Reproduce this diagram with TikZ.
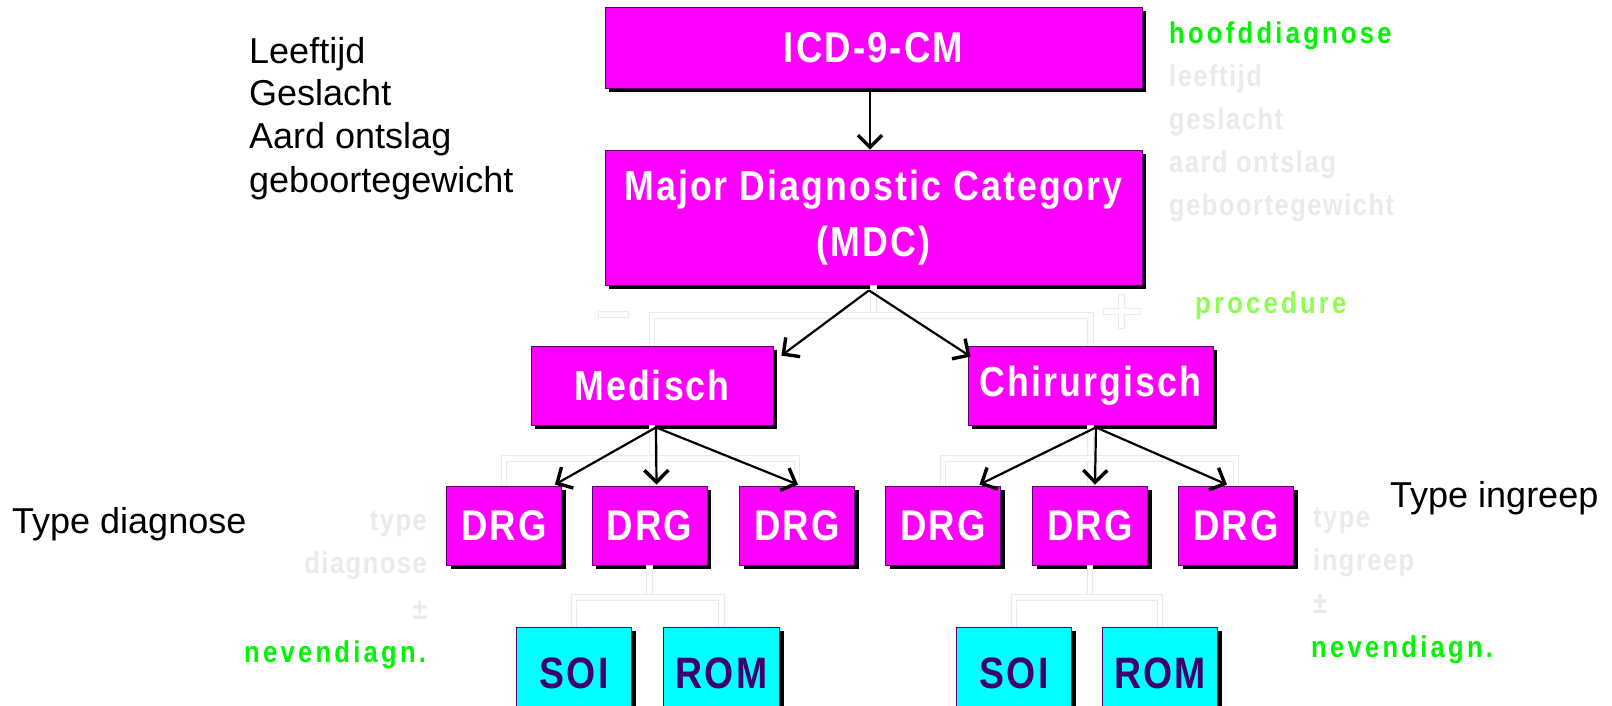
\documentclass[tikz,border=0pt]{standalone}
\usepackage{fontspec}
\setmainfont{Liberation Sans}
\newfontfamily\nb{Liberation Sans Bold}[FakeStretch=0.85,LetterSpace=5]
\newfontfamily\hb{Liberation Sans Bold}[FakeStretch=0.85,LetterSpace=5]
\newfontfamily\gb{Liberation Sans Bold}[FakeStretch=0.85,LetterSpace=11]
\usetikzlibrary{arrows.meta,shadows,calc}
\definecolor{mag}{RGB}{255,0,255}
\definecolor{mborder}{RGB}{90,0,110}
\definecolor{cyn}{RGB}{0,255,255}
\definecolor{soitext}{RGB}{60,0,110}
\definecolor{grn}{RGB}{0,245,0}
\definecolor{lgrn}{RGB}{140,255,80}
\definecolor{ghostc}{RGB}{234,234,238}
\begin{document}
\begin{tikzpicture}[x=1pt,y=-1pt,
  mbox/.style={draw=mborder,line width=0.8pt,fill=mag,text=white,inner sep=0pt,
     drop shadow={shadow xshift=4pt,shadow yshift=-4pt,fill=black,opacity=1}},
  cbox/.style={mbox,fill=cyn,text=soitext},
  arr/.style={line width=2.2pt,-{Straight Barb[length=12pt,width=24pt,line width=3.4pt]}},
  ghostline/.style={draw=ghostc,line width=0.9pt,double=white,double distance=4.5pt},
  btxt/.style={font=\fontsize{36}{43}\selectfont,anchor=base west,inner sep=0pt},
  gtxt/.style={font=\gb\fontsize{30}{36}\selectfont,anchor=base west,inner sep=0pt,text=grn},
  ghtxt/.style={font=\hb\fontsize{30}{36}\selectfont,anchor=base west,inner sep=0pt,text=ghostc}
 ]
\useasboundingbox (0,0) rectangle (1612,705);
\fill[white] (0,0) rectangle (1612,705);
\clip (0,0) rectangle (1612,705);

% boxes
\node[mbox,minimum width=537pt,minimum height=81pt,font=\nb\fontsize{43}{50}\selectfont] (ICD) at (873.5,47.5) {ICD-9-CM};
\node[mbox,minimum width=537pt,minimum height=135pt,align=center,font=\nb\fontsize{42}{56}\selectfont] (MDC) at (873.5,217.5) {Major Diagnostic Category\\(MDC)};
\node[mbox,minimum width=242pt,minimum height=79pt,font=\nb\fontsize{42}{50}\selectfont] (Med) at (652,385.5) {Medisch};
\node[mbox,minimum width=245pt,minimum height=79pt,font=\nb\fontsize{42}{50}\selectfont] (Chir) at (1090.5,385.5) {Chirurgisch};

\foreach \n/\x in {DRGa/504,DRGb/649.5,DRGc/797,DRGd/943,DRGe/1090,DRGf/1236}{
  \node[mbox,minimum width=115pt,minimum height=79pt,font=\nb\fontsize{43}{50}\selectfont] (\n) at (\x,525.5) {DRG};
}
\node[cbox,minimum width=115pt,minimum height=92pt,font=\nb\fontsize{44}{50}\selectfont] (SOIL) at (574,673) {SOI};
\node[cbox,minimum width=116pt,minimum height=92pt,font=\nb\fontsize{44}{50}\selectfont] (ROML) at (721.5,673) {ROM};
\node[cbox,minimum width=115pt,minimum height=92pt,font=\nb\fontsize{44}{50}\selectfont] (SOIR) at (1014,673) {SOI};
\node[cbox,minimum width=115pt,minimum height=92pt,font=\nb\fontsize{44}{50}\selectfont] (ROMR) at (1160,673) {ROM};

% ghost tree lines
\draw[ghostline] (MDC.south) -- ++(0,31);
\draw[ghostline] (Med.north) -- ++(0,-30) -| (Chir.north);
\draw[ghostline] (Med.south) -- (Med.south |- DRGa.north);
\draw[ghostline] (DRGa.north) -- ++(0,-27) -| (DRGc.north);
\draw[ghostline] (Chir.south) -- (Chir.south |- DRGd.north);
\draw[ghostline] (DRGd.north) -- ++(0,-27) -| (DRGf.north);
\draw[ghostline] (DRGb.south) -- ++(0,33);
\draw[ghostline] (SOIL.north) -- ++(0,-29) -| (ROML.north);
\draw[ghostline] (DRGe.south) -- ++(0,33);
\draw[ghostline] (SOIR.north) -- ++(0,-29) -| (ROMR.north);
\draw[ghostc,line width=0.9pt] (598,311) rectangle (628,317);
\draw[ghostc,line width=0.9pt] (1118.5,294.5) -- (1124.5,294.5) -- (1124.5,308.5) -- (1140,308.5) -- (1140,314.5) -- (1124.5,314.5) -- (1124.5,328.5) -- (1118.5,328.5) -- (1118.5,314.5) -- (1103,314.5) -- (1103,308.5) -- (1118.5,308.5) -- cycle;

% arrows
\draw[arr] (ICD.south -| 870,0) -- (MDC.north -| 870,0);
\coordinate (mA) at ($(MDC.south)+(-4.5,5)$);
\draw[arr] (mA) -- ($(Med.north east)+(8,10)$);
\draw[arr] (mA) -- ($(Chir.north west)+(3,11)$);
\coordinate (medA) at ($(Med.south)+(4,2)$);
\draw[arr] (medA) -- ($(DRGa.north east)+(-7,-1)$);
\draw[arr] (medA) -- ($(DRGb.north)+(7,-1)$);
\draw[arr] (medA) -- ($(DRGc.north)+(1,-1)$);
\coordinate (chA) at ($(Chir.south)+(5.5,2)$);
\draw[arr] (chA) -- ($(DRGd.north east)+(-21.5,-1)$);
\draw[arr] (chA) -- ($(DRGe.north)+(5,-1)$);
\draw[arr] (chA) -- ($(DRGf.north)+(-9,-1)$);

% black texts
\node[btxt] (t1) at (249,63) {Leeftijd};
\node[btxt] (t2) at (249,105) {Geslacht};
\node[btxt] (t3) at (249,148) {Aard ontslag};
\node[btxt] (t4) at (249,192) {geboortegewicht};
\node[btxt] (td) at (12,533) {Type diagnose};
\node[btxt] (ti) at (1390,507) {Type ingreep};

% green texts
\node[gtxt] (g1) at (1169,43) {hoofddiagnose};
\node[ghtxt] (g2) at (1169,86) {leeftijd};
\node[ghtxt] (g3) at (1169,129) {geslacht};
\node[ghtxt] (g4) at (1169,172) {aard ontslag};
\node[ghtxt] (g5) at (1169,215) {geboortegewicht};
\node[gtxt,text=lgrn] (pr) at (1195,313) {procedure};
\node[ghtxt,anchor=base east] (l1) at (427,530) {type};
\node[ghtxt,anchor=base east] (l2) at (427,573) {diagnose};
\node[ghtxt,anchor=base east] (l3) at (427,619) {±};
\node[gtxt] (nl) at (244,662) {nevendiagn.};
\node[ghtxt] (r1) at (1313,527) {type};
\node[ghtxt] (r2) at (1313,570) {ingreep};
\node[ghtxt] (r3) at (1313,613) {±};
\node[gtxt] (nr) at (1311,657) {nevendiagn.};
\end{tikzpicture}
\end{document}
